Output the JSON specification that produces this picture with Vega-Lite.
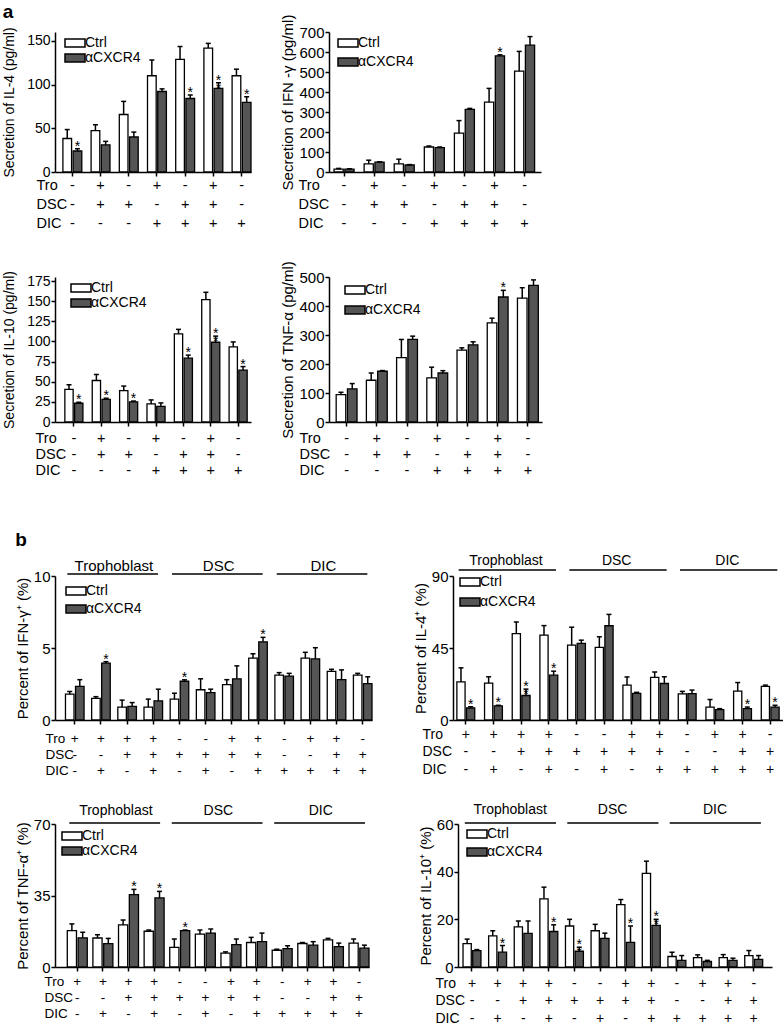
{
"$schema": "https://vega.github.io/schema/vega-lite/v6.json",
"padding": {"left": 2, "top": 3, "right": 0, "bottom": 0},
"config": {
  "view": {"stroke": null},
  "font": "Liberation Sans",
  "axis": {"domainColor": "black", "domainWidth": 1.5, "tickColor": "black", "tickWidth": 1.5, "tickSize": 4, "labelColor": "black", "titleColor": "black", "titleFontWeight": "normal", "grid": false, "labelFont": "Liberation Sans", "titleFont": "Liberation Sans"},
  "axisY": {"labelPadding": 1, "titlePadding": 3, "labelOverlap": false},
  "axisX": {"labelAngle": 0, "labelBaseline": "top", "labelOverlap": false, "labelFontSize": 14.5, "titleFontSize": 14.5, "titleAnchor": "start", "titleAlign": "left", "titleBaseline": "top"},
  "legend": {"orient": "none", "symbolType": "M-2.5,-1H2.5V1H-2.5Z", "symbolSize": 64, "symbolStrokeColor": "black", "symbolStrokeWidth": 1.5, "labelFontSize": 14, "labelColor": "black", "labelOffset": 3, "padding": 0, "labelFont": "Liberation Sans"},
  "title": {"anchor": "start", "fontSize": 19, "fontWeight": "bold", "font": "Liberation Sans", "color": "black", "offset": 0}
},
"datasets": {
  "a1": [
    {"g": "1|-|-|-", "trt": "Ctrl", "v": 38.3, "hi": 48.5, "sig": ""}, {"g": "1|-|-|-", "trt": "αCXCR4", "v": 24, "hi": 26.6, "sig": "*"},
    {"g": "2|+|+|-", "trt": "Ctrl", "v": 47.4, "hi": 54, "sig": ""}, {"g": "2|+|+|-", "trt": "αCXCR4", "v": 31, "hi": 35, "sig": ""},
    {"g": "3|-|+|-", "trt": "Ctrl", "v": 65.7, "hi": 80.7, "sig": ""}, {"g": "3|-|+|-", "trt": "αCXCR4", "v": 40, "hi": 45.6, "sig": ""},
    {"g": "4|+|-|+", "trt": "Ctrl", "v": 110, "hi": 128, "sig": ""}, {"g": "4|+|-|+", "trt": "αCXCR4", "v": 92, "hi": 95, "sig": ""},
    {"g": "5|-|+|+", "trt": "Ctrl", "v": 128.8, "hi": 143.4, "sig": ""}, {"g": "5|-|+|+", "trt": "αCXCR4", "v": 84, "hi": 88, "sig": "*"},
    {"g": "6|+|+|+", "trt": "Ctrl", "v": 141.6, "hi": 147, "sig": ""}, {"g": "6|+|+|+", "trt": "αCXCR4", "v": 95.6, "hi": 102, "sig": "*\n*"},
    {"g": "7|-|-|+", "trt": "Ctrl", "v": 110, "hi": 117.5, "sig": ""}, {"g": "7|-|-|+", "trt": "αCXCR4", "v": 79.6, "hi": 86, "sig": "*"}
  ],
  "a2": [
    {"g": "1|-|-|-", "trt": "Ctrl", "v": 14, "hi": 18, "sig": ""}, {"g": "1|-|-|-", "trt": "αCXCR4", "v": 14, "hi": 16, "sig": ""},
    {"g": "2|+|+|-", "trt": "Ctrl", "v": 41, "hi": 59, "sig": ""}, {"g": "2|+|+|-", "trt": "αCXCR4", "v": 49, "hi": 51, "sig": ""},
    {"g": "3|-|+|-", "trt": "Ctrl", "v": 41, "hi": 64, "sig": ""}, {"g": "3|-|+|-", "trt": "αCXCR4", "v": 35, "hi": 37, "sig": ""},
    {"g": "4|+|-|+", "trt": "Ctrl", "v": 125, "hi": 130, "sig": ""}, {"g": "4|+|-|+", "trt": "αCXCR4", "v": 122, "hi": 125, "sig": ""},
    {"g": "5|-|+|+", "trt": "Ctrl", "v": 194, "hi": 257, "sig": ""}, {"g": "5|-|+|+", "trt": "αCXCR4", "v": 313, "hi": 318, "sig": ""},
    {"g": "6|+|+|+", "trt": "Ctrl", "v": 349, "hi": 418, "sig": ""}, {"g": "6|+|+|+", "trt": "αCXCR4", "v": 581, "hi": 586, "sig": "*"},
    {"g": "7|-|-|+", "trt": "Ctrl", "v": 504, "hi": 603, "sig": ""}, {"g": "7|-|-|+", "trt": "αCXCR4", "v": 634, "hi": 677, "sig": ""}
  ],
  "a3": [
    {"g": "1|-|-|-", "trt": "Ctrl", "v": 40.6, "hi": 46.3, "sig": ""}, {"g": "1|-|-|-", "trt": "αCXCR4", "v": 23.3, "hi": 24.5, "sig": "*"},
    {"g": "2|+|+|-", "trt": "Ctrl", "v": 51.5, "hi": 59, "sig": ""}, {"g": "2|+|+|-", "trt": "αCXCR4", "v": 28, "hi": 29.5, "sig": "*"},
    {"g": "3|-|+|-", "trt": "Ctrl", "v": 39, "hi": 44.6, "sig": ""}, {"g": "3|-|+|-", "trt": "αCXCR4", "v": 25, "hi": 26, "sig": "*"},
    {"g": "4|+|-|+", "trt": "Ctrl", "v": 22.5, "hi": 27.4, "sig": ""}, {"g": "4|+|-|+", "trt": "αCXCR4", "v": 19.3, "hi": 23.7, "sig": ""},
    {"g": "5|-|+|+", "trt": "Ctrl", "v": 109.4, "hi": 115, "sig": ""}, {"g": "5|-|+|+", "trt": "αCXCR4", "v": 79.2, "hi": 83, "sig": "*"},
    {"g": "6|+|+|+", "trt": "Ctrl", "v": 152, "hi": 161, "sig": ""}, {"g": "6|+|+|+", "trt": "αCXCR4", "v": 99, "hi": 106.6, "sig": "*\n*"},
    {"g": "7|-|-|+", "trt": "Ctrl", "v": 93.3, "hi": 99.4, "sig": ""}, {"g": "7|-|-|+", "trt": "αCXCR4", "v": 64.4, "hi": 68.8, "sig": "*"}
  ],
  "a4": [
    {"g": "1|-|-|-", "trt": "Ctrl", "v": 94.5, "hi": 102.5, "sig": ""}, {"g": "1|-|-|-", "trt": "αCXCR4", "v": 114, "hi": 132.5, "sig": ""},
    {"g": "2|+|+|-", "trt": "Ctrl", "v": 144, "hi": 169, "sig": ""}, {"g": "2|+|+|-", "trt": "αCXCR4", "v": 175, "hi": 177.4, "sig": ""},
    {"g": "3|-|+|-", "trt": "Ctrl", "v": 222, "hi": 284.6, "sig": ""}, {"g": "3|-|+|-", "trt": "αCXCR4", "v": 284.6, "hi": 296, "sig": ""},
    {"g": "4|+|-|+", "trt": "Ctrl", "v": 152, "hi": 189, "sig": ""}, {"g": "4|+|-|+", "trt": "αCXCR4", "v": 169, "hi": 177, "sig": ""},
    {"g": "5|-|+|+", "trt": "Ctrl", "v": 247.7, "hi": 255.8, "sig": ""}, {"g": "5|-|+|+", "trt": "αCXCR4", "v": 266, "hi": 276.5, "sig": ""},
    {"g": "6|+|+|+", "trt": "Ctrl", "v": 342, "hi": 358, "sig": ""}, {"g": "6|+|+|+", "trt": "αCXCR4", "v": 431, "hi": 454, "sig": "*"},
    {"g": "7|-|-|+", "trt": "Ctrl", "v": 427, "hi": 463, "sig": ""}, {"g": "7|-|-|+", "trt": "αCXCR4", "v": 471, "hi": 490, "sig": ""}
  ],
  "b1": [
    {"g": "1|+|-|-", "trt": "Ctrl", "v": 1.79, "hi": 1.98, "sig": ""}, {"g": "1|+|-|-", "trt": "αCXCR4", "v": 2.33, "hi": 2.8, "sig": ""},
    {"g": "2|+|-|+", "trt": "Ctrl", "v": 1.5, "hi": 1.62, "sig": ""}, {"g": "2|+|-|+", "trt": "αCXCR4", "v": 3.95, "hi": 4.05, "sig": "*"},
    {"g": "3|+|+|-", "trt": "Ctrl", "v": 0.9, "hi": 1.38, "sig": ""}, {"g": "3|+|+|-", "trt": "αCXCR4", "v": 0.95, "hi": 1.21, "sig": ""},
    {"g": "4|+|+|+", "trt": "Ctrl", "v": 0.9, "hi": 1.45, "sig": ""}, {"g": "4|+|+|+", "trt": "αCXCR4", "v": 1.33, "hi": 2.14, "sig": ""},
    {"g": "5|-|+|-", "trt": "Ctrl", "v": 1.45, "hi": 1.86, "sig": ""}, {"g": "5|-|+|-", "trt": "αCXCR4", "v": 2.69, "hi": 2.79, "sig": "*"},
    {"g": "6|-|+|+", "trt": "Ctrl", "v": 2.1, "hi": 2.86, "sig": ""}, {"g": "6|-|+|+", "trt": "αCXCR4", "v": 1.9, "hi": 2.14, "sig": ""},
    {"g": "7|+|+|-", "trt": "Ctrl", "v": 2.45, "hi": 2.8, "sig": ""}, {"g": "7|+|+|-", "trt": "αCXCR4", "v": 2.86, "hi": 3.76, "sig": ""},
    {"g": "8|+|+|+", "trt": "Ctrl", "v": 4.3, "hi": 4.6, "sig": ""}, {"g": "8|+|+|+", "trt": "αCXCR4", "v": 5.43, "hi": 5.74, "sig": "*"},
    {"g": "9|-|-|+", "trt": "Ctrl", "v": 3.12, "hi": 3.29, "sig": ""}, {"g": "9|-|-|+", "trt": "αCXCR4", "v": 3.05, "hi": 3.24, "sig": ""},
    {"g": "10|+|-|+", "trt": "Ctrl", "v": 4.29, "hi": 4.7, "sig": ""}, {"g": "10|+|-|+", "trt": "αCXCR4", "v": 4.24, "hi": 5.02, "sig": ""},
    {"g": "11|+|+|+", "trt": "Ctrl", "v": 3.38, "hi": 3.52, "sig": ""}, {"g": "11|+|+|+", "trt": "αCXCR4", "v": 2.8, "hi": 3.48, "sig": ""},
    {"g": "12|-|+|+", "trt": "Ctrl", "v": 3.12, "hi": 3.24, "sig": ""}, {"g": "12|-|+|+", "trt": "αCXCR4", "v": 2.52, "hi": 3.0, "sig": ""}
  ],
  "b2": [
    {"g": "1|+|-|-", "trt": "Ctrl", "v": 23.8, "hi": 32.6, "sig": ""}, {"g": "1|+|-|-", "trt": "αCXCR4", "v": 7.5, "hi": 8.3, "sig": "*"},
    {"g": "2|+|-|+", "trt": "Ctrl", "v": 23, "hi": 27, "sig": ""}, {"g": "2|+|-|+", "trt": "αCXCR4", "v": 8.8, "hi": 9.2, "sig": "*"},
    {"g": "3|+|+|-", "trt": "Ctrl", "v": 54, "hi": 61.3, "sig": ""}, {"g": "3|+|+|-", "trt": "αCXCR4", "v": 15.3, "hi": 19.3, "sig": "*\n*"},
    {"g": "4|+|+|+", "trt": "Ctrl", "v": 53, "hi": 59, "sig": ""}, {"g": "4|+|+|+", "trt": "αCXCR4", "v": 28, "hi": 30.5, "sig": "*"},
    {"g": "5|-|+|-", "trt": "Ctrl", "v": 46.8, "hi": 58, "sig": ""}, {"g": "5|-|+|-", "trt": "αCXCR4", "v": 47.9, "hi": 49.9, "sig": ""},
    {"g": "6|-|+|+", "trt": "Ctrl", "v": 45.4, "hi": 52, "sig": ""}, {"g": "6|-|+|+", "trt": "αCXCR4", "v": 58.9, "hi": 66, "sig": ""},
    {"g": "7|+|+|-", "trt": "Ctrl", "v": 21.8, "hi": 26.9, "sig": ""}, {"g": "7|+|+|-", "trt": "αCXCR4", "v": 16.7, "hi": 17.3, "sig": ""},
    {"g": "8|+|+|+", "trt": "Ctrl", "v": 26.7, "hi": 30, "sig": ""}, {"g": "8|+|+|+", "trt": "αCXCR4", "v": 22.8, "hi": 27, "sig": ""},
    {"g": "9|-|-|+", "trt": "Ctrl", "v": 16.3, "hi": 17.9, "sig": ""}, {"g": "9|-|-|+", "trt": "αCXCR4", "v": 16.5, "hi": 18.7, "sig": ""},
    {"g": "10|+|-|+", "trt": "Ctrl", "v": 8.1, "hi": 12.8, "sig": ""}, {"g": "10|+|-|+", "trt": "αCXCR4", "v": 6.5, "hi": 7.1, "sig": ""},
    {"g": "11|+|+|+", "trt": "Ctrl", "v": 18.1, "hi": 23.4, "sig": ""}, {"g": "11|+|+|+", "trt": "αCXCR4", "v": 7.1, "hi": 8.1, "sig": "*"},
    {"g": "12|-|+|+", "trt": "Ctrl", "v": 21, "hi": 21.8, "sig": ""}, {"g": "12|-|+|+", "trt": "αCXCR4", "v": 8.1, "hi": 9.2, "sig": "*"}
  ],
  "b3": [
    {"g": "1|+|-|-", "trt": "Ctrl", "v": 17.8, "hi": 21.1, "sig": ""}, {"g": "1|+|-|-", "trt": "αCXCR4", "v": 14.3, "hi": 17, "sig": ""},
    {"g": "2|+|-|+", "trt": "Ctrl", "v": 14.2, "hi": 15.8, "sig": ""}, {"g": "2|+|-|+", "trt": "αCXCR4", "v": 11.4, "hi": 14, "sig": ""},
    {"g": "3|+|+|-", "trt": "Ctrl", "v": 20.6, "hi": 23, "sig": ""}, {"g": "3|+|+|-", "trt": "αCXCR4", "v": 35.4, "hi": 38, "sig": "*"},
    {"g": "4|+|+|+", "trt": "Ctrl", "v": 17.5, "hi": 18.1, "sig": ""}, {"g": "4|+|+|+", "trt": "αCXCR4", "v": 33.8, "hi": 37, "sig": "*"},
    {"g": "5|-|+|-", "trt": "Ctrl", "v": 9.6, "hi": 13.7, "sig": ""}, {"g": "5|-|+|-", "trt": "αCXCR4", "v": 17.8, "hi": 18.1, "sig": "*"},
    {"g": "6|-|+|+", "trt": "Ctrl", "v": 16.1, "hi": 18.1, "sig": ""}, {"g": "6|-|+|+", "trt": "αCXCR4", "v": 16.6, "hi": 18.6, "sig": ""},
    {"g": "7|+|+|-", "trt": "Ctrl", "v": 6.75, "hi": 7.4, "sig": ""}, {"g": "7|+|+|-", "trt": "αCXCR4", "v": 11, "hi": 13.7, "sig": ""},
    {"g": "8|+|+|+", "trt": "Ctrl", "v": 12, "hi": 14.5, "sig": ""}, {"g": "8|+|+|+", "trt": "αCXCR4", "v": 12.4, "hi": 16.6, "sig": ""},
    {"g": "9|-|-|+", "trt": "Ctrl", "v": 8.2, "hi": 8.7, "sig": ""}, {"g": "9|-|-|+", "trt": "αCXCR4", "v": 9, "hi": 10.4, "sig": ""},
    {"g": "10|+|-|+", "trt": "Ctrl", "v": 11.5, "hi": 12, "sig": ""}, {"g": "10|+|-|+", "trt": "αCXCR4", "v": 10.7, "hi": 12.4, "sig": ""},
    {"g": "11|+|+|+", "trt": "Ctrl", "v": 13.3, "hi": 14, "sig": ""}, {"g": "11|+|+|+", "trt": "αCXCR4", "v": 10, "hi": 11.7, "sig": ""},
    {"g": "12|-|+|+", "trt": "Ctrl", "v": 11.7, "hi": 13.7, "sig": ""}, {"g": "12|-|+|+", "trt": "αCXCR4", "v": 9.2, "hi": 10.7, "sig": ""}
  ],
  "b4": [
    {"g": "1|+|-|-", "trt": "Ctrl", "v": 9.8, "hi": 11.7, "sig": ""}, {"g": "1|+|-|-", "trt": "αCXCR4", "v": 6.9, "hi": 7.3, "sig": ""},
    {"g": "2|+|-|+", "trt": "Ctrl", "v": 13.1, "hi": 15.2, "sig": ""}, {"g": "2|+|-|+", "trt": "αCXCR4", "v": 6.2, "hi": 9, "sig": "*"},
    {"g": "3|+|+|-", "trt": "Ctrl", "v": 16.8, "hi": 19.3, "sig": ""}, {"g": "3|+|+|-", "trt": "αCXCR4", "v": 14.1, "hi": 19.3, "sig": ""},
    {"g": "4|+|+|+", "trt": "Ctrl", "v": 28.6, "hi": 33.5, "sig": ""}, {"g": "4|+|+|+", "trt": "αCXCR4", "v": 14.9, "hi": 17.7, "sig": "*"},
    {"g": "5|-|+|-", "trt": "Ctrl", "v": 17.2, "hi": 20, "sig": ""}, {"g": "5|-|+|-", "trt": "αCXCR4", "v": 6.6, "hi": 8.3, "sig": "*\n*"},
    {"g": "6|-|+|+", "trt": "Ctrl", "v": 15.2, "hi": 17.9, "sig": ""}, {"g": "6|-|+|+", "trt": "αCXCR4", "v": 12, "hi": 14.2, "sig": ""},
    {"g": "7|+|+|-", "trt": "Ctrl", "v": 26.2, "hi": 28.3, "sig": ""}, {"g": "7|+|+|-", "trt": "αCXCR4", "v": 10.3, "hi": 17.2, "sig": "*"},
    {"g": "8|+|+|+", "trt": "Ctrl", "v": 39.3, "hi": 44.4, "sig": ""}, {"g": "8|+|+|+", "trt": "αCXCR4", "v": 17.5, "hi": 20, "sig": "*\n*"},
    {"g": "9|-|-|+", "trt": "Ctrl", "v": 4.4, "hi": 6.2, "sig": ""}, {"g": "9|-|-|+", "trt": "αCXCR4", "v": 2.8, "hi": 4.8, "sig": ""},
    {"g": "10|+|-|+", "trt": "Ctrl", "v": 3.9, "hi": 5.1, "sig": ""}, {"g": "10|+|-|+", "trt": "αCXCR4", "v": 2.3, "hi": 2.8, "sig": ""},
    {"g": "11|+|+|+", "trt": "Ctrl", "v": 3.9, "hi": 5.2, "sig": ""}, {"g": "11|+|+|+", "trt": "αCXCR4", "v": 2.8, "hi": 3.7, "sig": ""},
    {"g": "12|-|+|+", "trt": "Ctrl", "v": 4.8, "hi": 6.9, "sig": ""}, {"g": "12|-|+|+", "trt": "αCXCR4", "v": 3.2, "hi": 4.8, "sig": ""}
  ],
  "hdr": [
    {"h": "Trophoblast", "s": "1|+|-|-", "e": "4|+|+|+", "m": "2|+|-|+"},
    {"h": "DSC", "s": "5|-|+|-", "e": "8|+|+|+", "m": "6|-|+|+"},
    {"h": "DIC", "s": "9|-|-|+", "e": "12|-|+|+", "m": "10|+|-|+"}
  ]
},
"spacing": 53,
"resolve": {"scale": {"fill": "independent", "xOffset": "independent"}, "legend": {"fill": "independent"}},
"vconcat": [
 {
  "title": {"text": "a", "offset": -8},
  "spacing": 30,
  "resolve": {"scale": {"fill": "independent", "xOffset": "independent"}, "legend": {"fill": "independent"}},
  "vconcat": [
   {
    "spacing": 28,
    "resolve": {"scale": {"fill": "independent", "xOffset": "independent"}, "legend": {"fill": "independent"}},
    "hconcat": [
     {
      "width": 196, "height": 140,
      "data": {"name": "a1"},
      "encoding": {"x": {"field": "g", "type": "nominal", "scale": {"domain": ["1|-|-|-","2|+|+|-","3|-|+|-","4|+|-|+","5|-|+|+","6|+|+|+","7|-|-|+"], "paddingInner": 0.33, "paddingOuter": 0.14, "align": 1},
        "axis": {"title": ["Tro", "DSC", "DIC"], "labelExpr": "slice(split(datum.value, '|'), 1)", "labelLineHeight": 19, "titleLineHeight": 19, "labelPadding": 2, "titleX": -19, "titleY": 6}}},
      "layer": [
       {"mark": {"type": "bar", "stroke": "black", "strokeWidth": 1.3},
        "encoding": {"xOffset": {"field": "trt", "type": "nominal", "scale": {"domain": ["Ctrl", "αCXCR4"], "paddingInner": 0.15}},
         "y": {"field": "v", "type": "quantitative", "scale": {"domain": [0, 150]}, "axis": {"values": [0, 50, 100, 150], "labelOverlap": false, "title": "Secretion of IL-4 (pg/ml)", "labelFontSize": 14, "titleFontSize": 14, "titlePadding": 10}},
         "fill": {"field": "trt", "type": "nominal", "scale": {"domain": ["Ctrl", "αCXCR4"], "range": ["#ffffff", "#555555"]}, "legend": {"title": null, "legendX": 13, "legendY": 4, "rowPadding": 1}}}},
       {"mark": {"type": "rule", "strokeWidth": 1.5, "color": "black"},
        "encoding": {"xOffset": {"field": "trt", "type": "nominal", "scale": {"domain": ["Ctrl", "αCXCR4"], "paddingInner": 0.15}}, "y": {"field": "hi", "type": "quantitative", "axis": {"values": [0, 50, 100, 150], "labelOverlap": false, "title": "Secretion of IL-4 (pg/ml)", "labelFontSize": 14, "titleFontSize": 14, "titlePadding": 10}}, "y2": {"field": "v"}}},
       {"mark": {"type": "tick", "thickness": 1.5, "size": 5, "color": "black", "opacity": 1},
        "encoding": {"xOffset": {"field": "trt", "type": "nominal", "scale": {"domain": ["Ctrl", "αCXCR4"], "paddingInner": 0.15}}, "y": {"field": "hi", "type": "quantitative", "axis": {"values": [0, 50, 100, 150], "labelOverlap": false, "title": "Secretion of IL-4 (pg/ml)", "labelFontSize": 14, "titleFontSize": 14, "titlePadding": 10}}}},
       {"mark": {"type": "text", "baseline": "alphabetic", "dy": 2, "fontSize": 14, "lineBreak": "\n", "lineHeight": 8, "color": "black"},
        "encoding": {"xOffset": {"field": "trt", "type": "nominal", "scale": {"domain": ["Ctrl", "αCXCR4"], "paddingInner": 0.15}}, "y": {"field": "hi", "type": "quantitative", "axis": {"values": [0, 50, 100, 150], "labelOverlap": false, "title": "Secretion of IL-4 (pg/ml)", "labelFontSize": 14, "titleFontSize": 14, "titlePadding": 10}}, "text": {"field": "sig"}}}
      ]
     },
     {
      "width": 212, "height": 140,
      "data": {"name": "a2"},
      "encoding": {"x": {"field": "g", "type": "nominal", "scale": {"domain": ["1|-|-|-","2|+|+|-","3|-|+|-","4|+|-|+","5|-|+|+","6|+|+|+","7|-|-|+"], "paddingInner": 0.335, "paddingOuter": 0.19, "align": 0.44},
        "axis": {"title": ["Tro", "DSC", "DIC"], "labelExpr": "slice(split(datum.value, '|'), 1)", "labelLineHeight": 19, "titleLineHeight": 19, "labelPadding": 2, "titleX": -31, "titleY": 6}}},
      "layer": [
       {"mark": {"type": "bar", "stroke": "black", "strokeWidth": 1.3},
        "encoding": {"xOffset": {"field": "trt", "type": "nominal", "scale": {"domain": ["Ctrl", "αCXCR4"], "paddingInner": 0.15}},
         "y": {"field": "v", "type": "quantitative", "scale": {"domain": [0, 700]}, "axis": {"values": [0, 100, 200, 300, 400, 500, 600, 700], "labelOverlap": false, "title": "Secretion of IFN -γ (pg/ml)", "labelFontSize": 15, "titleFontSize": 15}},
         "fill": {"field": "trt", "type": "nominal", "scale": {"domain": ["Ctrl", "αCXCR4"], "range": ["#ffffff", "#555555"]}, "legend": {"title": null, "legendX": 12, "legendY": 4, "rowPadding": 5}}}},
       {"mark": {"type": "rule", "strokeWidth": 1.5, "color": "black"},
        "encoding": {"xOffset": {"field": "trt", "type": "nominal", "scale": {"domain": ["Ctrl", "αCXCR4"], "paddingInner": 0.15}}, "y": {"field": "hi", "type": "quantitative", "axis": {"values": [0, 100, 200, 300, 400, 500, 600, 700], "labelOverlap": false, "title": "Secretion of IFN -γ (pg/ml)", "labelFontSize": 15, "titleFontSize": 15}}, "y2": {"field": "v"}}},
       {"mark": {"type": "tick", "thickness": 1.5, "size": 5, "color": "black", "opacity": 1},
        "encoding": {"xOffset": {"field": "trt", "type": "nominal", "scale": {"domain": ["Ctrl", "αCXCR4"], "paddingInner": 0.15}}, "y": {"field": "hi", "type": "quantitative", "axis": {"values": [0, 100, 200, 300, 400, 500, 600, 700], "labelOverlap": false, "title": "Secretion of IFN -γ (pg/ml)", "labelFontSize": 15, "titleFontSize": 15}}}},
       {"mark": {"type": "text", "baseline": "alphabetic", "dy": 2, "fontSize": 14, "lineBreak": "\n", "lineHeight": 8, "color": "black"},
        "encoding": {"xOffset": {"field": "trt", "type": "nominal", "scale": {"domain": ["Ctrl", "αCXCR4"], "paddingInner": 0.15}}, "y": {"field": "hi", "type": "quantitative", "axis": {"values": [0, 100, 200, 300, 400, 500, 600, 700], "labelOverlap": false, "title": "Secretion of IFN -γ (pg/ml)", "labelFontSize": 15, "titleFontSize": 15}}, "text": {"field": "sig"}}}
      ]
     }
    ]
   },
   {
    "spacing": 29,
    "resolve": {"scale": {"fill": "independent", "xOffset": "independent"}, "legend": {"fill": "independent"}},
    "hconcat": [
     {
      "width": 196, "height": 145,
      "data": {"name": "a3"},
      "encoding": {"x": {"field": "g", "type": "nominal", "scale": {"domain": ["1|-|-|-","2|+|+|-","3|-|+|-","4|+|-|+","5|-|+|+","6|+|+|+","7|-|-|+"], "paddingInner": 0.34, "paddingOuter": 0.25, "align": 0.72},
        "axis": {"title": ["Tro", "DSC", "DIC"], "labelExpr": "slice(split(datum.value, '|'), 1)", "labelLineHeight": 16, "titleLineHeight": 16, "labelPadding": 5, "titleX": -20, "titleY": 9}}},
      "layer": [
       {"mark": {"type": "bar", "stroke": "black", "strokeWidth": 1.3},
        "encoding": {"xOffset": {"field": "trt", "type": "nominal", "scale": {"domain": ["Ctrl", "αCXCR4"], "paddingInner": 0.15}},
         "y": {"field": "v", "type": "quantitative", "scale": {"domain": [0, 175]}, "axis": {"values": [0, 25, 50, 75, 100, 125, 150, 175], "labelOverlap": false, "title": "Secretion of IL-10 (pg/ml)", "labelFontSize": 14, "titleFontSize": 14, "titlePadding": 10}},
         "fill": {"field": "trt", "type": "nominal", "scale": {"domain": ["Ctrl", "αCXCR4"], "range": ["#ffffff", "#555555"]}, "legend": {"title": null, "legendX": 19, "legendY": 4, "rowPadding": 1}}}},
       {"mark": {"type": "rule", "strokeWidth": 1.5, "color": "black"},
        "encoding": {"xOffset": {"field": "trt", "type": "nominal", "scale": {"domain": ["Ctrl", "αCXCR4"], "paddingInner": 0.15}}, "y": {"field": "hi", "type": "quantitative", "axis": {"values": [0, 25, 50, 75, 100, 125, 150, 175], "labelOverlap": false, "title": "Secretion of IL-10 (pg/ml)", "labelFontSize": 14, "titleFontSize": 14, "titlePadding": 10}}, "y2": {"field": "v"}}},
       {"mark": {"type": "tick", "thickness": 1.5, "size": 5, "color": "black", "opacity": 1},
        "encoding": {"xOffset": {"field": "trt", "type": "nominal", "scale": {"domain": ["Ctrl", "αCXCR4"], "paddingInner": 0.15}}, "y": {"field": "hi", "type": "quantitative", "axis": {"values": [0, 25, 50, 75, 100, 125, 150, 175], "labelOverlap": false, "title": "Secretion of IL-10 (pg/ml)", "labelFontSize": 14, "titleFontSize": 14, "titlePadding": 10}}}},
       {"mark": {"type": "text", "baseline": "alphabetic", "dy": 2, "fontSize": 14, "lineBreak": "\n", "lineHeight": 8, "color": "black"},
        "encoding": {"xOffset": {"field": "trt", "type": "nominal", "scale": {"domain": ["Ctrl", "αCXCR4"], "paddingInner": 0.15}}, "y": {"field": "hi", "type": "quantitative", "axis": {"values": [0, 25, 50, 75, 100, 125, 150, 175], "labelOverlap": false, "title": "Secretion of IL-10 (pg/ml)", "labelFontSize": 14, "titleFontSize": 14, "titlePadding": 10}}, "text": {"field": "sig"}}}
      ]
     },
     {
      "width": 213, "height": 145,
      "data": {"name": "a4"},
      "encoding": {"x": {"field": "g", "type": "nominal", "scale": {"domain": ["1|-|-|-","2|+|+|-","3|-|+|-","4|+|-|+","5|-|+|+","6|+|+|+","7|-|-|+"], "paddingInner": 0.31, "paddingOuter": 0.18, "align": 0.66},
        "axis": {"title": ["Tro", "DSC", "DIC"], "labelExpr": "slice(split(datum.value, '|'), 1)", "labelLineHeight": 16, "titleLineHeight": 16, "labelPadding": 5, "titleX": -30, "titleY": 9}}},
      "layer": [
       {"mark": {"type": "bar", "stroke": "black", "strokeWidth": 1.3},
        "encoding": {"xOffset": {"field": "trt", "type": "nominal", "scale": {"domain": ["Ctrl", "αCXCR4"], "paddingInner": 0.15}},
         "y": {"field": "v", "type": "quantitative", "scale": {"domain": [0, 500]}, "axis": {"values": [0, 100, 200, 300, 400, 500], "labelOverlap": false, "title": "Secretion of TNF-α (pg/ml)", "labelFontSize": 15, "titleFontSize": 15}},
         "fill": {"field": "trt", "type": "nominal", "scale": {"domain": ["Ctrl", "αCXCR4"], "range": ["#ffffff", "#555555"]}, "legend": {"title": null, "legendX": 19, "legendY": 6, "rowPadding": 6}}}},
       {"mark": {"type": "rule", "strokeWidth": 1.5, "color": "black"},
        "encoding": {"xOffset": {"field": "trt", "type": "nominal", "scale": {"domain": ["Ctrl", "αCXCR4"], "paddingInner": 0.15}}, "y": {"field": "hi", "type": "quantitative", "axis": {"values": [0, 100, 200, 300, 400, 500], "labelOverlap": false, "title": "Secretion of TNF-α (pg/ml)", "labelFontSize": 15, "titleFontSize": 15}}, "y2": {"field": "v"}}},
       {"mark": {"type": "tick", "thickness": 1.5, "size": 5, "color": "black", "opacity": 1},
        "encoding": {"xOffset": {"field": "trt", "type": "nominal", "scale": {"domain": ["Ctrl", "αCXCR4"], "paddingInner": 0.15}}, "y": {"field": "hi", "type": "quantitative", "axis": {"values": [0, 100, 200, 300, 400, 500], "labelOverlap": false, "title": "Secretion of TNF-α (pg/ml)", "labelFontSize": 15, "titleFontSize": 15}}}},
       {"mark": {"type": "text", "baseline": "alphabetic", "dy": 2, "fontSize": 14, "lineBreak": "\n", "lineHeight": 8, "color": "black"},
        "encoding": {"xOffset": {"field": "trt", "type": "nominal", "scale": {"domain": ["Ctrl", "αCXCR4"], "paddingInner": 0.15}}, "y": {"field": "hi", "type": "quantitative", "axis": {"values": [0, 100, 200, 300, 400, 500], "labelOverlap": false, "title": "Secretion of TNF-α (pg/ml)", "labelFontSize": 15, "titleFontSize": 15}}, "text": {"field": "sig"}}}
      ]
     }
    ]
   }
  ]
 },
 {
  "title": {"text": "b"},
  "spacing": 25,
  "resolve": {"scale": {"fill": "independent", "xOffset": "independent"}, "legend": {"fill": "independent"}},
  "vconcat": [
   {
    "spacing": 40,
    "resolve": {"scale": {"fill": "independent", "xOffset": "independent"}, "legend": {"fill": "independent"}},
    "hconcat": [
     {
      "width": 317, "height": 144,
      "data": {"name": "b1"},
      "encoding": {"x": {"field": "g", "type": "nominal", "scale": {"domain": ["1|+|-|-","2|+|-|+","3|+|+|-","4|+|+|+","5|-|+|-","6|-|+|+","7|+|+|-","8|+|+|+","9|-|-|+","10|+|-|+","11|+|+|+","12|-|+|+"], "paddingInner": 0.29, "paddingOuter": 0.2, "align": 1},
        "axis": {"title": ["Tro", "DSC", "DIC"], "labelExpr": "slice(split(datum.value, '|'), 1)", "labelLineHeight": 16, "titleLineHeight": 16, "labelPadding": 7, "titleX": -10, "titleY": 11, "labelFontSize": 13.5, "titleFontSize": 13.5}}},
      "layer": [
       {"mark": {"type": "bar", "stroke": "black", "strokeWidth": 1.3},
        "encoding": {"xOffset": {"field": "trt", "type": "nominal", "scale": {"domain": ["Ctrl", "αCXCR4"], "paddingInner": 0.15}},
         "y": {"field": "v", "type": "quantitative", "scale": {"domain": [0, 10]}, "axis": {"values": [0, 5, 10], "labelOverlap": false, "title": "Percent of IFN-γ⁺ (%)", "labelFontSize": 15, "titleFontSize": 15}},
         "fill": {"field": "trt", "type": "nominal", "scale": {"domain": ["Ctrl", "αCXCR4"], "range": ["#ffffff", "#555555"]}, "legend": {"title": null, "legendX": 14, "legendY": 8, "rowPadding": 4}}}},
       {"mark": {"type": "rule", "strokeWidth": 1.5, "color": "black"},
        "encoding": {"xOffset": {"field": "trt", "type": "nominal", "scale": {"domain": ["Ctrl", "αCXCR4"], "paddingInner": 0.15}}, "y": {"field": "hi", "type": "quantitative", "axis": {"values": [0, 5, 10], "labelOverlap": false, "title": "Percent of IFN-γ⁺ (%)", "labelFontSize": 15, "titleFontSize": 15}}, "y2": {"field": "v"}}},
       {"mark": {"type": "tick", "thickness": 1.5, "size": 5, "color": "black", "opacity": 1},
        "encoding": {"xOffset": {"field": "trt", "type": "nominal", "scale": {"domain": ["Ctrl", "αCXCR4"], "paddingInner": 0.15}}, "y": {"field": "hi", "type": "quantitative", "axis": {"values": [0, 5, 10], "labelOverlap": false, "title": "Percent of IFN-γ⁺ (%)", "labelFontSize": 15, "titleFontSize": 15}}}},
       {"mark": {"type": "text", "baseline": "alphabetic", "dy": 2, "fontSize": 14, "lineBreak": "\n", "lineHeight": 8, "color": "black"},
        "encoding": {"xOffset": {"field": "trt", "type": "nominal", "scale": {"domain": ["Ctrl", "αCXCR4"], "paddingInner": 0.15}}, "y": {"field": "hi", "type": "quantitative", "axis": {"values": [0, 5, 10], "labelOverlap": false, "title": "Percent of IFN-γ⁺ (%)", "labelFontSize": 15, "titleFontSize": 15}}, "text": {"field": "sig"}}},
       {"data": {"name": "hdr"}, "mark": {"type": "rule", "strokeWidth": 1.5, "color": "black"},
        "encoding": {"x": {"field": "s", "type": "nominal", "bandPosition": 0.1}, "x2": {"field": "e", "bandPosition": 0.75}, "y": {"datum": 10.14, "type": "quantitative", "axis": {"values": [0, 5, 10], "labelOverlap": false, "title": "Percent of IFN-γ⁺ (%)", "labelFontSize": 15, "titleFontSize": 15}}}},
       {"data": {"name": "hdr"}, "mark": {"type": "text", "fontSize": 15, "baseline": "middle", "color": "black"},
        "encoding": {"x": {"field": "m", "type": "nominal", "bandPosition": 1.2}, "y": {"datum": 10.7, "type": "quantitative", "axis": {"values": [0, 5, 10], "labelOverlap": false, "title": "Percent of IFN-γ⁺ (%)", "labelFontSize": 15, "titleFontSize": 15}}, "text": {"field": "h"}}}
      ]
     },
     {
      "width": 330, "height": 144,
      "data": {"name": "b2"},
      "encoding": {"x": {"field": "g", "type": "nominal", "scale": {"domain": ["1|+|-|-","2|+|-|+","3|+|+|-","4|+|+|+","5|-|+|-","6|-|+|+","7|+|+|-","8|+|+|+","9|-|-|+","10|+|-|+","11|+|+|+","12|-|+|+"], "paddingInner": 0.355, "paddingOuter": 0.14, "align": 0.5},
        "axis": {"title": ["Tro", "DSC", "DIC"], "labelExpr": "slice(split(datum.value, '|'), 1)", "labelLineHeight": 17.5, "titleLineHeight": 17.5, "labelPadding": 3, "titleX": -31, "titleY": 7, "labelFontSize": 14, "titleFontSize": 14}}},
      "layer": [
       {"mark": {"type": "bar", "stroke": "black", "strokeWidth": 1.3},
        "encoding": {"xOffset": {"field": "trt", "type": "nominal", "scale": {"domain": ["Ctrl", "αCXCR4"], "paddingInner": 0.15}},
         "y": {"field": "v", "type": "quantitative", "scale": {"domain": [0, 90]}, "axis": {"values": [0, 45, 90], "labelOverlap": false, "title": "Percent of IL-4⁺ (%)", "labelFontSize": 15, "titleFontSize": 15}},
         "fill": {"field": "trt", "type": "nominal", "scale": {"domain": ["Ctrl", "αCXCR4"], "range": ["#ffffff", "#555555"]}, "legend": {"title": null, "legendX": 10, "legendY": -1, "rowPadding": 6}}}},
       {"mark": {"type": "rule", "strokeWidth": 1.5, "color": "black"},
        "encoding": {"xOffset": {"field": "trt", "type": "nominal", "scale": {"domain": ["Ctrl", "αCXCR4"], "paddingInner": 0.15}}, "y": {"field": "hi", "type": "quantitative", "axis": {"values": [0, 45, 90], "labelOverlap": false, "title": "Percent of IL-4⁺ (%)", "labelFontSize": 15, "titleFontSize": 15}}, "y2": {"field": "v"}}},
       {"mark": {"type": "tick", "thickness": 1.5, "size": 5, "color": "black", "opacity": 1},
        "encoding": {"xOffset": {"field": "trt", "type": "nominal", "scale": {"domain": ["Ctrl", "αCXCR4"], "paddingInner": 0.15}}, "y": {"field": "hi", "type": "quantitative", "axis": {"values": [0, 45, 90], "labelOverlap": false, "title": "Percent of IL-4⁺ (%)", "labelFontSize": 15, "titleFontSize": 15}}}},
       {"mark": {"type": "text", "baseline": "alphabetic", "dy": 2, "fontSize": 14, "lineBreak": "\n", "lineHeight": 8, "color": "black"},
        "encoding": {"xOffset": {"field": "trt", "type": "nominal", "scale": {"domain": ["Ctrl", "αCXCR4"], "paddingInner": 0.15}}, "y": {"field": "hi", "type": "quantitative", "axis": {"values": [0, 45, 90], "labelOverlap": false, "title": "Percent of IL-4⁺ (%)", "labelFontSize": 15, "titleFontSize": 15}}, "text": {"field": "sig"}}},
       {"data": {"name": "hdr"}, "mark": {"type": "rule", "strokeWidth": 1.5, "color": "black"},
        "encoding": {"x": {"field": "s", "type": "nominal", "bandPosition": 0.1}, "x2": {"field": "e", "bandPosition": 0.9}, "y": {"datum": 93.75, "type": "quantitative", "axis": {"values": [0, 45, 90], "labelOverlap": false, "title": "Percent of IL-4⁺ (%)", "labelFontSize": 15, "titleFontSize": 15}}}},
       {"data": {"name": "hdr"}, "mark": {"type": "text", "fontSize": 14, "baseline": "middle", "color": "black"},
        "encoding": {"x": {"field": "m", "type": "nominal", "bandPosition": 1.2}, "y": {"datum": 99.4, "type": "quantitative", "axis": {"values": [0, 45, 90], "labelOverlap": false, "title": "Percent of IL-4⁺ (%)", "labelFontSize": 15, "titleFontSize": 15}}, "text": {"field": "h"}}}
      ]
     }
    ]
   },
   {
    "spacing": 48,
    "resolve": {"scale": {"fill": "independent", "xOffset": "independent"}, "legend": {"fill": "independent"}},
    "hconcat": [
     {
      "width": 314, "height": 143,
      "data": {"name": "b3"},
      "encoding": {"x": {"field": "g", "type": "nominal", "scale": {"domain": ["1|+|-|-","2|+|-|+","3|+|+|-","4|+|+|+","5|-|+|-","6|-|+|+","7|+|+|-","8|+|+|+","9|-|-|+","10|+|-|+","11|+|+|+","12|-|+|+"], "paddingInner": 0.22, "paddingOuter": 0.24, "align": 1},
        "axis": {"title": ["Tro", "DSC", "DIC"], "labelExpr": "slice(split(datum.value, '|'), 1)", "labelLineHeight": 16, "titleLineHeight": 16, "labelPadding": 3, "titleX": -11, "titleY": 7, "labelFontSize": 13.5, "titleFontSize": 13.5}}},
      "layer": [
       {"mark": {"type": "bar", "stroke": "black", "strokeWidth": 1.3},
        "encoding": {"xOffset": {"field": "trt", "type": "nominal", "scale": {"domain": ["Ctrl", "αCXCR4"], "paddingInner": 0.15}},
         "y": {"field": "v", "type": "quantitative", "scale": {"domain": [0, 70]}, "axis": {"values": [0, 35, 70], "labelOverlap": false, "title": "Percent of TNF-α⁺ (%)", "labelFontSize": 15, "titleFontSize": 15}},
         "fill": {"field": "trt", "type": "nominal", "scale": {"domain": ["Ctrl", "αCXCR4"], "range": ["#ffffff", "#555555"]}, "legend": {"title": null, "legendX": 10, "legendY": 5, "rowPadding": 1}}}},
       {"mark": {"type": "rule", "strokeWidth": 1.5, "color": "black"},
        "encoding": {"xOffset": {"field": "trt", "type": "nominal", "scale": {"domain": ["Ctrl", "αCXCR4"], "paddingInner": 0.15}}, "y": {"field": "hi", "type": "quantitative", "axis": {"values": [0, 35, 70], "labelOverlap": false, "title": "Percent of TNF-α⁺ (%)", "labelFontSize": 15, "titleFontSize": 15}}, "y2": {"field": "v"}}},
       {"mark": {"type": "tick", "thickness": 1.5, "size": 5, "color": "black", "opacity": 1},
        "encoding": {"xOffset": {"field": "trt", "type": "nominal", "scale": {"domain": ["Ctrl", "αCXCR4"], "paddingInner": 0.15}}, "y": {"field": "hi", "type": "quantitative", "axis": {"values": [0, 35, 70], "labelOverlap": false, "title": "Percent of TNF-α⁺ (%)", "labelFontSize": 15, "titleFontSize": 15}}}},
       {"mark": {"type": "text", "baseline": "alphabetic", "dy": 2, "fontSize": 14, "lineBreak": "\n", "lineHeight": 8, "color": "black"},
        "encoding": {"xOffset": {"field": "trt", "type": "nominal", "scale": {"domain": ["Ctrl", "αCXCR4"], "paddingInner": 0.15}}, "y": {"field": "hi", "type": "quantitative", "axis": {"values": [0, 35, 70], "labelOverlap": false, "title": "Percent of TNF-α⁺ (%)", "labelFontSize": 15, "titleFontSize": 15}}, "text": {"field": "sig"}}},
       {"data": {"name": "hdr"}, "mark": {"type": "rule", "strokeWidth": 1.5, "color": "black"},
        "encoding": {"x": {"field": "s", "type": "nominal", "bandPosition": 0.1}, "x2": {"field": "e", "bandPosition": 0.8}, "y": {"datum": 70.5, "type": "quantitative", "axis": {"values": [0, 35, 70], "labelOverlap": false, "title": "Percent of TNF-α⁺ (%)", "labelFontSize": 15, "titleFontSize": 15}}}},
       {"data": {"name": "hdr"}, "mark": {"type": "text", "fontSize": 14, "baseline": "middle", "color": "black"},
        "encoding": {"x": {"field": "m", "type": "nominal", "bandPosition": 1.15}, "y": {"datum": 76.4, "type": "quantitative", "axis": {"values": [0, 35, 70], "labelOverlap": false, "title": "Percent of TNF-α⁺ (%)", "labelFontSize": 15, "titleFontSize": 15}}, "text": {"field": "h"}}}
      ]
     },
     {
      "width": 314, "height": 143,
      "data": {"name": "b4"},
      "encoding": {"x": {"field": "g", "type": "nominal", "scale": {"domain": ["1|+|-|-","2|+|-|+","3|+|+|-","4|+|+|+","5|-|+|-","6|-|+|+","7|+|+|-","8|+|+|+","9|-|-|+","10|+|-|+","11|+|+|+","12|-|+|+"], "paddingInner": 0.3, "paddingOuter": 0.28, "align": 0.35},
        "axis": {"title": ["Tro", "DSC", "DIC"], "labelExpr": "slice(split(datum.value, '|'), 1)", "labelLineHeight": 17.5, "titleLineHeight": 17.5, "labelPadding": 5, "titleX": -23, "titleY": 9, "labelFontSize": 14, "titleFontSize": 14}}},
      "layer": [
       {"mark": {"type": "bar", "stroke": "black", "strokeWidth": 1.3},
        "encoding": {"xOffset": {"field": "trt", "type": "nominal", "scale": {"domain": ["Ctrl", "αCXCR4"], "paddingInner": 0.15}},
         "y": {"field": "v", "type": "quantitative", "scale": {"domain": [0, 60]}, "axis": {"values": [0, 20, 40, 60], "labelOverlap": false, "title": "Percent of IL-10⁺ (%)", "labelFontSize": 15, "titleFontSize": 15}},
         "fill": {"field": "trt", "type": "nominal", "scale": {"domain": ["Ctrl", "αCXCR4"], "range": ["#ffffff", "#555555"]}, "legend": {"title": null, "legendX": 12, "legendY": 3, "rowPadding": 4}}}},
       {"mark": {"type": "rule", "strokeWidth": 1.5, "color": "black"},
        "encoding": {"xOffset": {"field": "trt", "type": "nominal", "scale": {"domain": ["Ctrl", "αCXCR4"], "paddingInner": 0.15}}, "y": {"field": "hi", "type": "quantitative", "axis": {"values": [0, 20, 40, 60], "labelOverlap": false, "title": "Percent of IL-10⁺ (%)", "labelFontSize": 15, "titleFontSize": 15}}, "y2": {"field": "v"}}},
       {"mark": {"type": "tick", "thickness": 1.5, "size": 5, "color": "black", "opacity": 1},
        "encoding": {"xOffset": {"field": "trt", "type": "nominal", "scale": {"domain": ["Ctrl", "αCXCR4"], "paddingInner": 0.15}}, "y": {"field": "hi", "type": "quantitative", "axis": {"values": [0, 20, 40, 60], "labelOverlap": false, "title": "Percent of IL-10⁺ (%)", "labelFontSize": 15, "titleFontSize": 15}}}},
       {"mark": {"type": "text", "baseline": "alphabetic", "dy": 2, "fontSize": 14, "lineBreak": "\n", "lineHeight": 8, "color": "black"},
        "encoding": {"xOffset": {"field": "trt", "type": "nominal", "scale": {"domain": ["Ctrl", "αCXCR4"], "paddingInner": 0.15}}, "y": {"field": "hi", "type": "quantitative", "axis": {"values": [0, 20, 40, 60], "labelOverlap": false, "title": "Percent of IL-10⁺ (%)", "labelFontSize": 15, "titleFontSize": 15}}, "text": {"field": "sig"}}},
       {"data": {"name": "hdr"}, "mark": {"type": "rule", "strokeWidth": 1.5, "color": "black"},
        "encoding": {"x": {"field": "s", "type": "nominal", "bandPosition": 0.1}, "x2": {"field": "e", "bandPosition": 0.9}, "y": {"datum": 60.4, "type": "quantitative", "axis": {"values": [0, 20, 40, 60], "labelOverlap": false, "title": "Percent of IL-10⁺ (%)", "labelFontSize": 15, "titleFontSize": 15}}}},
       {"data": {"name": "hdr"}, "mark": {"type": "text", "fontSize": 14, "baseline": "middle", "color": "black"},
        "encoding": {"x": {"field": "m", "type": "nominal", "bandPosition": 1.2}, "y": {"datum": 65.9, "type": "quantitative", "axis": {"values": [0, 20, 40, 60], "labelOverlap": false, "title": "Percent of IL-10⁺ (%)", "labelFontSize": 15, "titleFontSize": 15}}, "text": {"field": "h"}}}
      ]
     }
    ]
   }
  ]
 }
]
}
